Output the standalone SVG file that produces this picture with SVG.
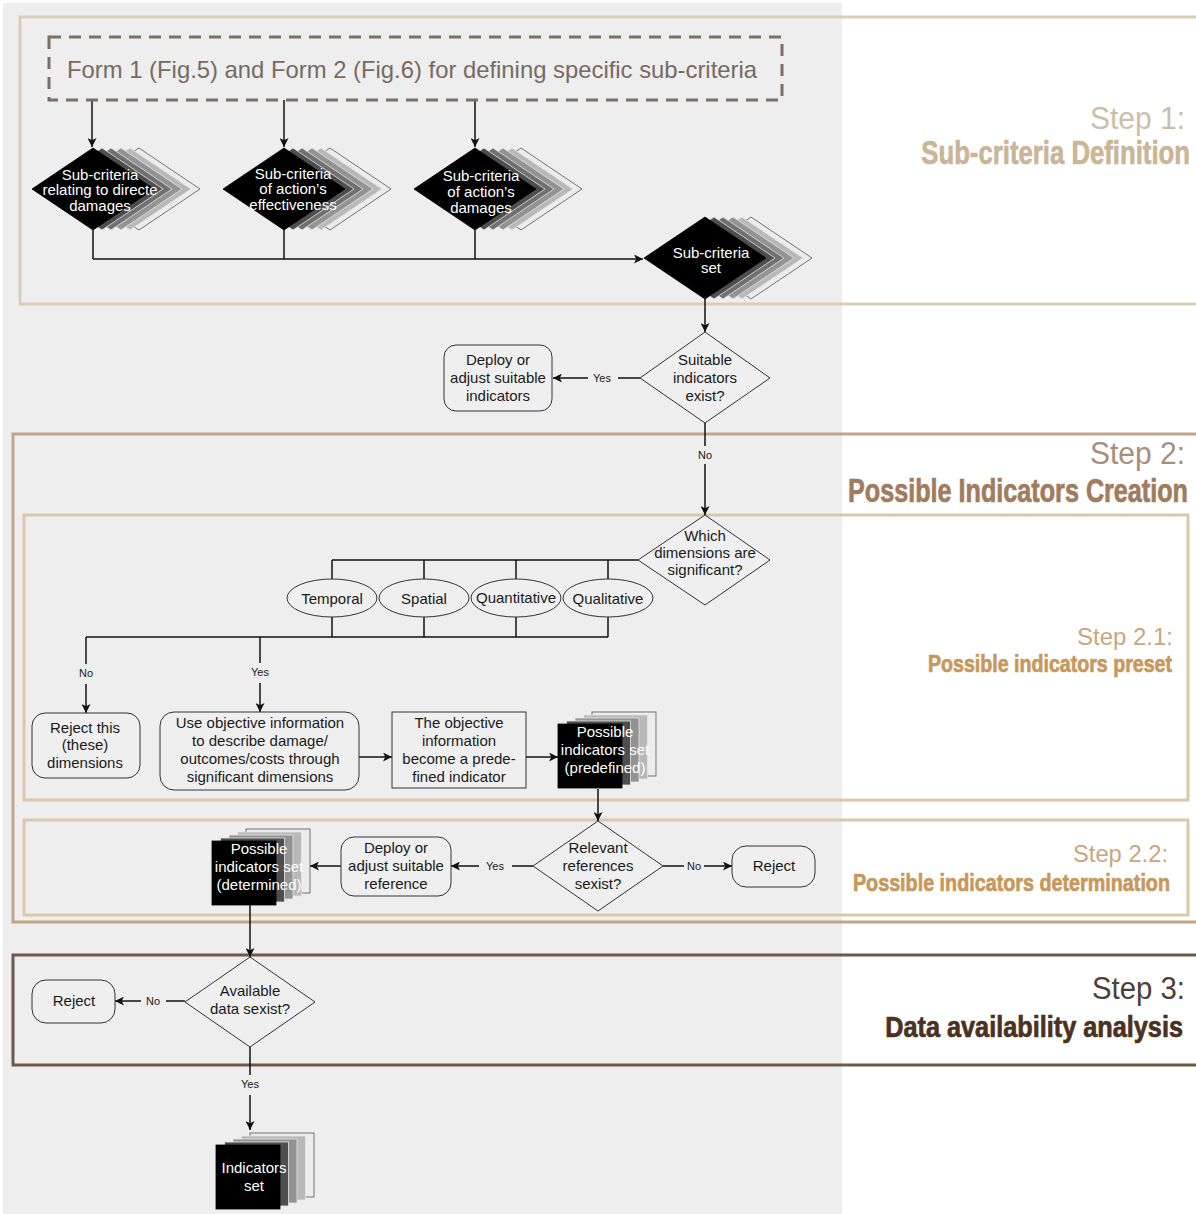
<svg xmlns="http://www.w3.org/2000/svg" width="1196" height="1214" viewBox="0 0 1196 1214">
  <style>
    text { font-family: "Liberation Sans", Arial, sans-serif; }
    .t { font-size: 15px; fill: #1a1a1a; text-anchor: middle; }
    .w { font-size: 15px; fill: #ffffff; text-anchor: middle; }
    .lbl { font-size: 11px; fill: #1a1a1a; text-anchor: middle; }
    .ln { fill: none; stroke: #111; stroke-width: 1.5; }
    .arr { marker-end: url(#ah); }
    .box { fill: #efefef; stroke: #333; stroke-width: 1; }
    .l0 { fill: #000; stroke: #000; stroke-width: 0.8; }
    .l1 { fill: #4e4e4e; stroke: #e6e6e6; stroke-width: 0.8; }
    .l2 { fill: #707070; stroke: #e6e6e6; stroke-width: 0.8; }
    .l3 { fill: #939393; stroke: #e6e6e6; stroke-width: 0.8; }
    .l4 { fill: #b8b8b8; stroke: #e6e6e6; stroke-width: 0.8; }
    .l5 { fill: #ececec; stroke: #555; stroke-width: 0.8; }
    .frame { fill: none; stroke-width: 3; }
    .stepL { font-size: 31px; }
    .stepB { font-weight: bold; text-anchor: end; stroke-width: 0.7; }
  </style>
  <defs>
    <marker id="ah" viewBox="0 0 10 10" refX="10" refY="5" markerWidth="9" markerHeight="9" markerUnits="userSpaceOnUse" orient="auto">
      <path d="M0,0 L10,5 L0,10 L2.5,5 Z" fill="#111"/>
    </marker>
    <path id="dia" d="M-61,0 L0,-41 L61,0 L0,41 Z"/>
    <rect id="sq" x="0" y="0" width="64" height="64"/>
  </defs>

  <!-- page background and grey working panel -->
  <rect x="0" y="0" width="1196" height="1214" fill="#ffffff"/>
  <rect x="3" y="3" width="839" height="1211" fill="#eeeeee"/>

  <!-- step frames -->
  <g id="frames">
    <rect class="frame" x="20" y="17" width="1190" height="287" stroke="#d9cdb7"/>
    <rect class="frame" x="13" y="434" width="1200" height="488" stroke="#c2a488"/>
    <rect class="frame" x="24" y="515" width="1164" height="285" stroke="#dcc7ab"/>
    <rect class="frame" x="24" y="820" width="1164" height="95" stroke="#dcc7ab"/>
    <rect class="frame" x="13" y="955" width="1200" height="110" stroke="#6e5949"/>
  </g>

  <!-- step titles -->
  <g id="step-titles">
    <text class="stepL" x="1090" y="129" textLength="95" lengthAdjust="spacingAndGlyphs" fill="#cdbea6">Step 1:</text>
    <text class="stepB" transform="translate(1190,164) scale(0.78,1)" font-size="33" fill="#c9b696" stroke="#c9b696">Sub-criteria Definition</text>
    <text class="stepL" x="1090" y="464" textLength="95" lengthAdjust="spacingAndGlyphs" fill="#a78f7c">Step 2:</text>
    <text class="stepB" transform="translate(1188,502) scale(0.763,1)" font-size="33" fill="#a07b5d" stroke="#a07b5d">Possible Indicators Creation</text>
    <text x="1077" y="645" font-size="24" textLength="96" lengthAdjust="spacingAndGlyphs" fill="#c9a67e">Step 2.1:</text>
    <text class="stepB" transform="translate(1172,672) scale(0.817,1)" font-size="24" fill="#c8975c" stroke="#c8975c">Possible indicators preset</text>
    <text x="1073" y="862" font-size="24" textLength="95" lengthAdjust="spacingAndGlyphs" fill="#c9a67e">Step 2.2:</text>
    <text class="stepB" transform="translate(1170,891) scale(0.823,1)" font-size="24" fill="#c8975c" stroke="#c8975c">Possible indicators determination</text>
    <text class="stepL" x="1092" y="999" textLength="93" lengthAdjust="spacingAndGlyphs" fill="#4e4037">Step 3:</text>
    <text class="stepB" transform="translate(1183,1037) scale(0.872,1)" font-size="29" fill="#4a3222" stroke="#4a3222">Data availability analysis</text>
  </g>

  <!-- connectors -->
  <g id="connectors">
    <path class="ln arr" d="M92,100 V147"/>
    <path class="ln arr" d="M284,100 V147"/>
    <path class="ln arr" d="M475,100 V147"/>
    <path class="ln" d="M93,230 V259 M284,230 V259 M475,230 V259"/>
    <path class="ln arr" d="M93,259 H643"/>
    <path class="ln arr" d="M705,299 V332"/>
    <path class="ln" d="M640,378 H618"/>
    <path class="ln arr" d="M588,378 H553"/>
    <path class="ln" d="M705,423 V446"/>
    <path class="ln arr" d="M705,464 V515"/>
    <path class="ln" d="M638,560 H332 M332,560 V580 M424,560 V580 M516,560 V580 M608,560 V580"/>
    <path class="ln" d="M332,617 V637 M424,617 V637 M516,617 V637 M608,617 V637 M86,637 H608"/>
    <path class="ln" d="M86,637 V664"/>
    <path class="ln arr" d="M86,684 V713"/>
    <path class="ln" d="M260,637 V663"/>
    <path class="ln arr" d="M260,683 V712"/>
    <path class="ln arr" d="M359,757 H392"/>
    <path class="ln arr" d="M526,757 H558"/>
    <path class="ln arr" d="M598,789 V821"/>
    <path class="ln" d="M533,866 H512"/>
    <path class="ln arr" d="M479,866 H451"/>
    <path class="ln" d="M663,866 H684"/>
    <path class="ln arr" d="M704,866 H732"/>
    <path class="ln arr" d="M341,866 H310"/>
    <path class="ln arr" d="M250,905 V957"/>
    <path class="ln" d="M185,1001 H166"/>
    <path class="ln arr" d="M141,1001 H115"/>
    <path class="ln" d="M250,1047 V1075"/>
    <path class="ln arr" d="M250,1095 V1130"/>
    <text class="lbl" x="602" y="382">Yes</text>
    <text class="lbl" x="705" y="459">No</text>
    <text class="lbl" x="86" y="677">No</text>
    <text class="lbl" x="260" y="676">Yes</text>
    <text class="lbl" x="495" y="870">Yes</text>
    <text class="lbl" x="694" y="870">No</text>
    <text class="lbl" x="153" y="1005">No</text>
    <text class="lbl" x="250" y="1088">Yes</text>
  </g>

  <!-- source forms -->
  <g id="forms">
    <rect x="49" y="37" width="733" height="63" fill="none" stroke="#7b6f64" stroke-width="3" stroke-dasharray="12 8"/>
    <text x="67" y="78" font-size="24" fill="#766b61" textLength="690" lengthAdjust="spacingAndGlyphs">Form 1 (Fig.5) and Form 2 (Fig.6) for defining specific sub-criteria</text>
  </g>

  <!-- sub-criteria stacks -->
  <g id="sub-direct">
    <use href="#dia" class="l5" transform="translate(139,189)"/>
    <use href="#dia" class="l4" transform="translate(130,189)"/>
    <use href="#dia" class="l3" transform="translate(121,189)"/>
    <use href="#dia" class="l2" transform="translate(111,189)"/>
    <use href="#dia" class="l1" transform="translate(102,189)"/>
    <use href="#dia" class="l0" transform="translate(93,189)"/>
    <text class="w" x="100" y="180">Sub-criteria</text>
    <text class="w" x="100" y="195">relating to directe</text>
    <text class="w" x="100" y="211">damages</text>
  </g>
  <g id="sub-effectiveness">
    <use href="#dia" class="l5" transform="translate(330,189)"/>
    <use href="#dia" class="l4" transform="translate(321,189)"/>
    <use href="#dia" class="l3" transform="translate(312,189)"/>
    <use href="#dia" class="l2" transform="translate(302,189)"/>
    <use href="#dia" class="l1" transform="translate(293,189)"/>
    <use href="#dia" class="l0" transform="translate(284,189)"/>
    <text class="w" x="293" y="179">Sub-criteria</text>
    <text class="w" x="293" y="194">of action’s</text>
    <text class="w" x="293" y="210">effectiveness</text>
  </g>
  <g id="sub-action-damages">
    <use href="#dia" class="l5" transform="translate(521,189)"/>
    <use href="#dia" class="l4" transform="translate(512,189)"/>
    <use href="#dia" class="l3" transform="translate(503,189)"/>
    <use href="#dia" class="l2" transform="translate(493,189)"/>
    <use href="#dia" class="l1" transform="translate(484,189)"/>
    <use href="#dia" class="l0" transform="translate(475,189)"/>
    <text class="w" x="481" y="181">Sub-criteria</text>
    <text class="w" x="481" y="197">of action’s</text>
    <text class="w" x="481" y="213">damages</text>
  </g>
  <g id="sub-set">
    <use href="#dia" class="l5" transform="translate(751,258)"/>
    <use href="#dia" class="l4" transform="translate(742,258)"/>
    <use href="#dia" class="l3" transform="translate(733,258)"/>
    <use href="#dia" class="l2" transform="translate(723,258)"/>
    <use href="#dia" class="l1" transform="translate(714,258)"/>
    <use href="#dia" class="l0" transform="translate(705,258)"/>
    <text class="w" x="711" y="258">Sub-criteria</text>
    <text class="w" x="711" y="273">set</text>
  </g>

  <!-- step 1 exit decision -->
  <g id="suitable-exist">
    <path class="box" d="M640,378 L705,332 L770,378 L705,423 Z"/>
    <text class="t" x="705" y="365">Suitable</text>
    <text class="t" x="705" y="383">indicators</text>
    <text class="t" x="705" y="401">exist?</text>
  </g>
  <g id="deploy-indicators">
    <rect class="box" x="444" y="345" width="108" height="66" rx="12"/>
    <text class="t" x="498" y="365">Deploy or</text>
    <text class="t" x="498" y="383">adjust suitable</text>
    <text class="t" x="498" y="401">indicators</text>
  </g>

  <!-- step 2.1 -->
  <g id="which-dimensions">
    <path class="box" d="M638,560 L705,515 L770,560 L705,605 Z"/>
    <text class="t" x="705" y="541">Which</text>
    <text class="t" x="705" y="558">dimensions are</text>
    <text class="t" x="705" y="575">significant?</text>
  </g>
  <g id="dim-temporal">
    <ellipse class="box" cx="332" cy="598" rx="45" ry="19"/>
    <text class="t" x="332" y="604">Temporal</text>
  </g>
  <g id="dim-spatial">
    <ellipse class="box" cx="424" cy="598" rx="45" ry="19"/>
    <text class="t" x="424" y="604">Spatial</text>
  </g>
  <g id="dim-quantitative">
    <ellipse class="box" cx="516" cy="598" rx="45" ry="19"/>
    <text class="t" x="516" y="603">Quantitative</text>
  </g>
  <g id="dim-qualitative">
    <ellipse class="box" cx="608" cy="598" rx="45" ry="19"/>
    <text class="t" x="608" y="604">Qualitative</text>
  </g>
  <g id="reject-dimensions">
    <rect class="box" x="32" y="713" width="108" height="65" rx="13"/>
    <text class="t" x="85" y="733">Reject this</text>
    <text class="t" x="85" y="750">(these)</text>
    <text class="t" x="85" y="768">dimensions</text>
  </g>
  <g id="use-objective">
    <rect class="box" x="160" y="712" width="199" height="78" rx="14"/>
    <text class="t" x="260" y="728">Use objective information</text>
    <text class="t" x="260" y="746">to describe damage/</text>
    <text class="t" x="260" y="764">outcomes/costs through</text>
    <text class="t" x="260" y="782">significant dimensions</text>
  </g>
  <g id="predefined-indicator">
    <rect class="box" x="392" y="712" width="134" height="76"/>
    <text class="t" x="459" y="728">The objective</text>
    <text class="t" x="459" y="746">information</text>
    <text class="t" x="459" y="764">become a prede-</text>
    <text class="t" x="459" y="782">fined indicator</text>
  </g>
  <g id="set-predefined">
    <use href="#sq" class="l5" x="592" y="712"/>
    <use href="#sq" class="l4" x="583.5" y="715"/>
    <use href="#sq" class="l3" x="575" y="718"/>
    <use href="#sq" class="l1" x="566.5" y="721"/>
    <use href="#sq" class="l0" x="558" y="724"/>
    <text class="w" x="605" y="737">Possible</text>
    <text class="w" x="605" y="755">indicators set</text>
    <text class="w" x="605" y="773">(predefined)</text>
  </g>

  <!-- step 2.2 -->
  <g id="references-exist">
    <path class="box" d="M533,866 L598,821 L663,866 L598,911 Z"/>
    <text class="t" x="598" y="853">Relevant</text>
    <text class="t" x="598" y="871">references</text>
    <text class="t" x="598" y="889">sexist?</text>
  </g>
  <g id="reject-reference">
    <rect class="box" x="732" y="846" width="83" height="41" rx="14"/>
    <text class="t" x="774" y="871">Reject</text>
  </g>
  <g id="deploy-reference">
    <rect class="box" x="341" y="837" width="110" height="59" rx="13"/>
    <text class="t" x="396" y="853">Deploy or</text>
    <text class="t" x="396" y="871">adjust suitable</text>
    <text class="t" x="396" y="889">reference</text>
  </g>
  <g id="set-determined">
    <use href="#sq" class="l5" x="246" y="829"/>
    <use href="#sq" class="l4" x="237.5" y="832"/>
    <use href="#sq" class="l3" x="229" y="835"/>
    <use href="#sq" class="l1" x="220.5" y="838"/>
    <use href="#sq" class="l0" x="212" y="841"/>
    <text class="w" x="259" y="854">Possible</text>
    <text class="w" x="259" y="872">indicators set</text>
    <text class="w" x="259" y="890">(determined)</text>
  </g>

  <!-- step 3 -->
  <g id="data-exist">
    <path class="box" d="M185,1002 L250,957 L315,1002 L250,1047 Z"/>
    <text class="t" x="250" y="996">Available</text>
    <text class="t" x="250" y="1014">data sexist?</text>
  </g>
  <g id="reject-data">
    <rect class="box" x="32" y="980" width="83" height="43" rx="14"/>
    <text class="t" x="74" y="1006">Reject</text>
  </g>
  <g id="indicators-set">
    <use href="#sq" class="l5" x="250" y="1133"/>
    <use href="#sq" class="l4" x="241.5" y="1136"/>
    <use href="#sq" class="l3" x="233" y="1139"/>
    <use href="#sq" class="l1" x="224.5" y="1142"/>
    <use href="#sq" class="l0" x="216" y="1145"/>
    <text class="w" x="254" y="1173">Indicators</text>
    <text class="w" x="254" y="1191">set</text>
  </g>
</svg>
